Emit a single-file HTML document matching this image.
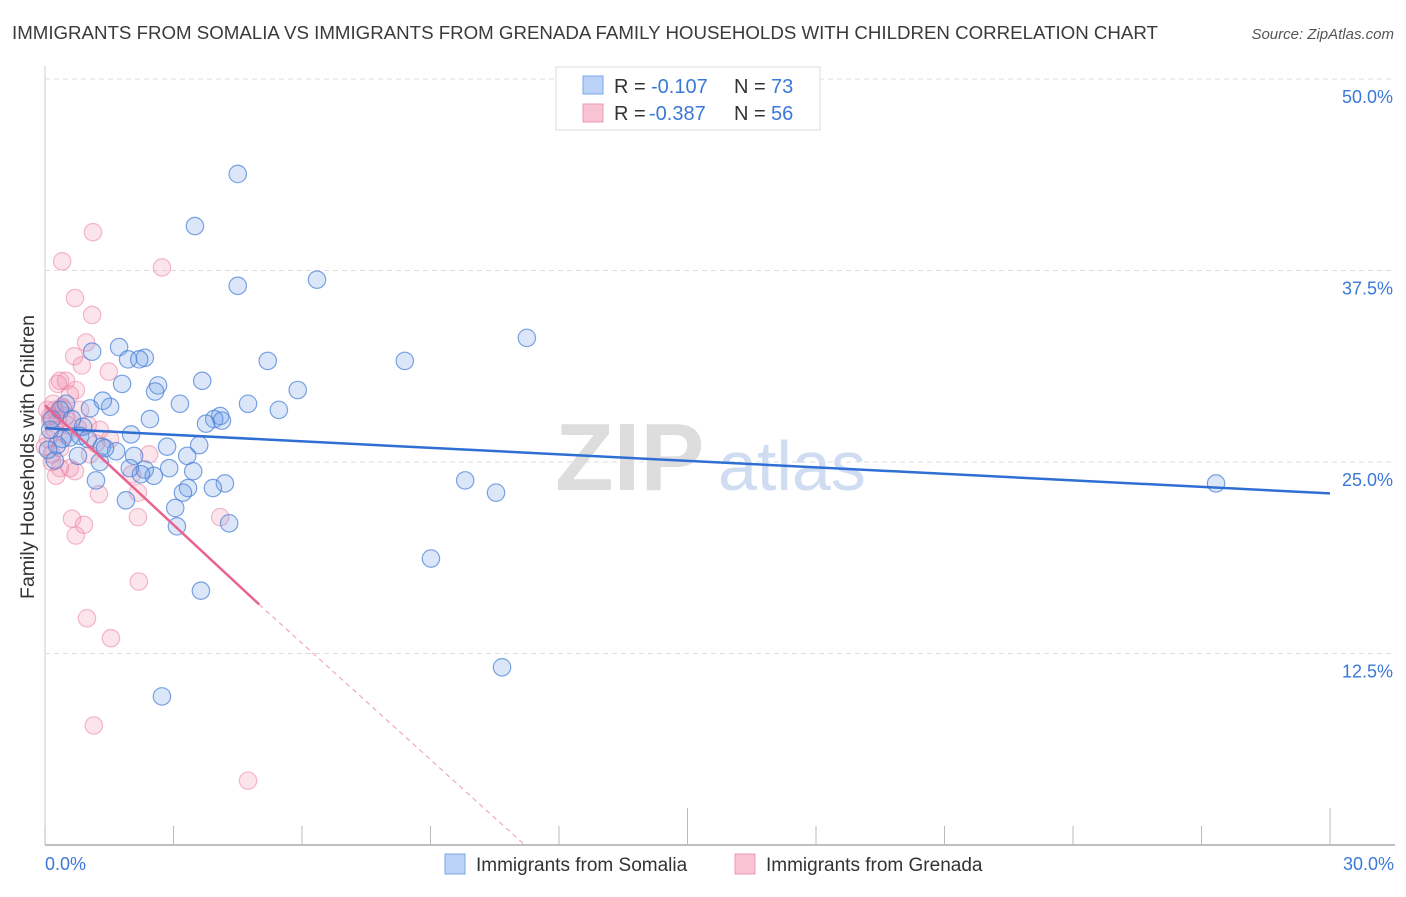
<!DOCTYPE html>
<html><head><meta charset="utf-8"><style>
body{margin:0;background:#fff;font-family:"Liberation Sans",sans-serif;}
svg text{font-family:"Liberation Sans",sans-serif;}
</style></head><body>
<svg id="chart" width="1406" height="892" xmlns="http://www.w3.org/2000/svg">
<text x="12" y="39" font-size="18.7" fill="#3a3a3a">IMMIGRANTS FROM SOMALIA VS IMMIGRANTS FROM GRENADA FAMILY HOUSEHOLDS WITH CHILDREN CORRELATION CHART</text>
<text x="1394" y="39" font-size="15" fill="#555" text-anchor="end" font-style="italic">Source: ZipAtlas.com</text>
<text transform="translate(34,457) rotate(-90)" font-size="19.5" fill="#333" text-anchor="middle">Family Households with Children</text>
<g>
<text x="555" y="490" font-size="96" font-family="Liberation Serif" fill="#ddd" font-weight="bold">ZIP</text>
<text x="718" y="490" font-size="70" fill="#cfdcf2">atlas</text>
</g>
<g id="grid"></g>
<g id="axes"></g>
<g id="pts"></g>
<g id="trend"></g>
<g>
<rect x="556" y="67" width="264" height="63" fill="#fff" stroke="#ddd"/>
<rect x="583" y="76" width="20" height="18" fill="#b9d2f5" stroke="#7aa6e6"/>
<rect x="583" y="104" width="20" height="18" fill="#f8c4d4" stroke="#ee9ab4"/>
<text x="614" y="93" font-size="20" fill="#333">R =</text>
<text x="651" y="93" font-size="20" fill="#3b78d8">-0.107</text>
<text x="734" y="93" font-size="20" fill="#333">N =</text>
<text x="771" y="93" font-size="20" fill="#3b78d8">73</text>
<text x="614" y="120" font-size="20" fill="#333">R =</text>
<text x="649" y="120" font-size="20" fill="#3b78d8">-0.387</text>
<text x="734" y="120" font-size="20" fill="#333">N =</text>
<text x="771" y="120" font-size="20" fill="#3b78d8">56</text>
</g>
<g>
<rect x="445" y="854" width="20" height="20" fill="#b9d2f5" stroke="#7aa6e6"/>
<text x="476" y="871" font-size="19" fill="#333">Immigrants from Somalia</text>
<rect x="735" y="854" width="20" height="20" fill="#f8c4d4" stroke="#ee9ab4"/>
<text x="766" y="871" font-size="19" fill="#333">Immigrants from Grenada</text>
</g>
</svg>
<script>
const xTicks=[0,3,6,9,12,15,18,21,24,27,30];
const yTicks=[12.5,25,37.5,50];
const yTickLabels=["12.5%","25.0%","37.5%","50.0%"];
const xEndLabels=["0.0%","30.0%"];
const somaliaX=[4.5,3.5,4.5,6.35,11.25,8.4,5.2,1.73,1.1,1.94,2.33,2.2,1.8,2.64,2.57,3.67,5.9,3.15,1.52,4.74,1.05,1.35,5.46,4.09,3.95,4.13,3.76,0.49,2.45,2.01,0.89,0.82,0.58,1.33,1.66,2.85,3.6,2.08,3.32,0.77,1.28,0.23,2.33,2.54,3.46,2.9,2.24,1.19,4.2,3.92,3.34,3.22,1.89,3.04,4.3,3.08,3.64,9.01,9.81,10.53,27.34,10.67,2.73,0.28,0.12,0.16,0.35,0.63,0.07,0.4,1.0,1.4,1.98];
const somaliaY=[43.8,40.4,36.5,36.9,33.1,31.6,31.6,32.5,32.2,31.7,31.8,31.7,30.1,30.0,29.6,30.3,29.7,28.8,28.6,28.8,28.5,29.0,28.4,28.0,27.8,27.7,27.5,28.8,27.8,26.8,27.3,26.7,26.6,26.0,25.7,26.0,26.1,25.4,25.4,25.4,25.0,25.1,24.5,24.1,24.4,24.6,24.2,23.8,23.6,23.3,23.3,23.0,22.5,22.0,21.0,20.8,16.6,18.7,23.8,23.0,23.6,11.6,9.7,26.1,27.1,27.8,28.4,27.8,25.8,26.5,26.5,25.9,24.6];
const grenadaX=[1.12,0.4,2.73,0.7,1.1,0.96,0.68,0.86,1.49,0.35,0.3,0.72,0.42,0.23,0.12,0.49,0.54,0.77,1.0,0.23,0.07,0.16,1.19,0.35,0.58,1.26,2.17,2.03,2.43,0.63,0.91,0.72,2.17,4.09,2.19,0.98,1.54,1.14,4.74,0.12,0.0,0.3,0.47,0.82,0.58,1.28,0.35,0.19,0.05,1.05,0.49,1.52,0.26,0.7,0.4,0.16];
const grenadaY=[40.0,38.1,37.7,35.7,34.6,32.8,31.9,31.3,30.9,30.3,30.1,29.7,28.5,28.4,28.0,28.0,27.4,27.2,27.4,27.1,26.5,25.5,26.2,24.6,24.6,22.9,23.0,24.2,25.5,21.3,20.9,20.2,21.4,21.4,17.2,14.8,13.5,7.8,4.2,27.7,26.0,27.7,26.8,28.4,29.4,27.1,25.9,28.8,28.4,25.5,30.3,26.5,24.1,24.4,28.6,25.0];
const somaliaTrend=[27.2,22.95];
const grenadaTrend=[28.7,15.7,0];
const grenadaTrendX=[0,5,11.2];
const X0=45,X1=1330,YT=79,YB=845;
const sx=v=>X0+v/30*(X1-X0);
const sy=v=>YB-v/50*(YB-YT);
const NS="http://www.w3.org/2000/svg";
function mk(tag,attrs,parent){const e=document.createElementNS(NS,tag);for(const k in attrs)e.setAttribute(k,attrs[k]);parent.appendChild(e);return e;}
const grid=document.getElementById('grid'),axes=document.getElementById('axes'),pts=document.getElementById('pts'),trend=document.getElementById('trend');
yTicks.forEach((t,i)=>{
 const l=mk('line',{x1:X0,x2:1395,y1:sy(t),y2:sy(t),stroke:'#ddd','stroke-dasharray':'5,4'},grid);
 
 
 const tx=mk('text',{x:1393,y:sy(t)+24,'font-size':18,fill:'#3b78d8','text-anchor':'end'},axes);
 tx.textContent=yTickLabels[i];
 
 
});
const ax=mk('line',{x1:X0,x2:1395,y1:YB,y2:YB,stroke:'#aaa','stroke-width':1.5},axes);


const ay=mk('line',{x1:X0,x2:X0,y1:66,y2:YB,stroke:'#ccc'},axes);


xTicks.forEach((t,i)=>{
 const big=(t===15||t===30);
 const l=mk('line',{x1:sx(t),x2:sx(t),y1:big?808:826,y2:YB,stroke:'#bbb'},axes);
 
 
});
[[0,'start',45],[30,'end',1394]].forEach((d,i)=>{
 const tx=mk('text',{x:d[2],y:870,'font-size':18,fill:'#3b78d8','text-anchor':d[1]},axes);
 tx.textContent=xEndLabels[i];
 
 
});
grenadaX.forEach((v,i)=>{
 const c=mk('circle',{cx:sx(v),cy:sy(grenadaY[i]),r:8.7,fill:'rgba(240,130,165,0.22)',stroke:'rgba(235,130,165,0.55)','stroke-width':1.2},pts);
 
 
});
somaliaX.forEach((v,i)=>{
 const c=mk('circle',{cx:sx(v),cy:sy(somaliaY[i]),r:8.7,fill:'rgba(110,160,230,0.25)',stroke:'rgba(70,125,215,0.7)','stroke-width':1.2},pts);
 
 
});
const bt=mk('line',{x1:sx(0),y1:sy(somaliaTrend[0]),x2:sx(30),y2:sy(somaliaTrend[1]),stroke:'#2f6fd4','stroke-width':2.5},trend);


const pt=mk('line',{x1:sx(grenadaTrendX[0]),y1:sy(grenadaTrend[0]),x2:sx(grenadaTrendX[1]),y2:sy(grenadaTrend[1]),stroke:'#e8638f','stroke-width':2.5},trend);


const pd=mk('line',{x1:sx(grenadaTrendX[1]),y1:sy(grenadaTrend[1]),x2:sx(grenadaTrendX[2]),y2:sy(grenadaTrend[2]),stroke:'#eeaac0','stroke-width':1.2,'stroke-dasharray':'5,4'},trend);


</script>
</body></html>
